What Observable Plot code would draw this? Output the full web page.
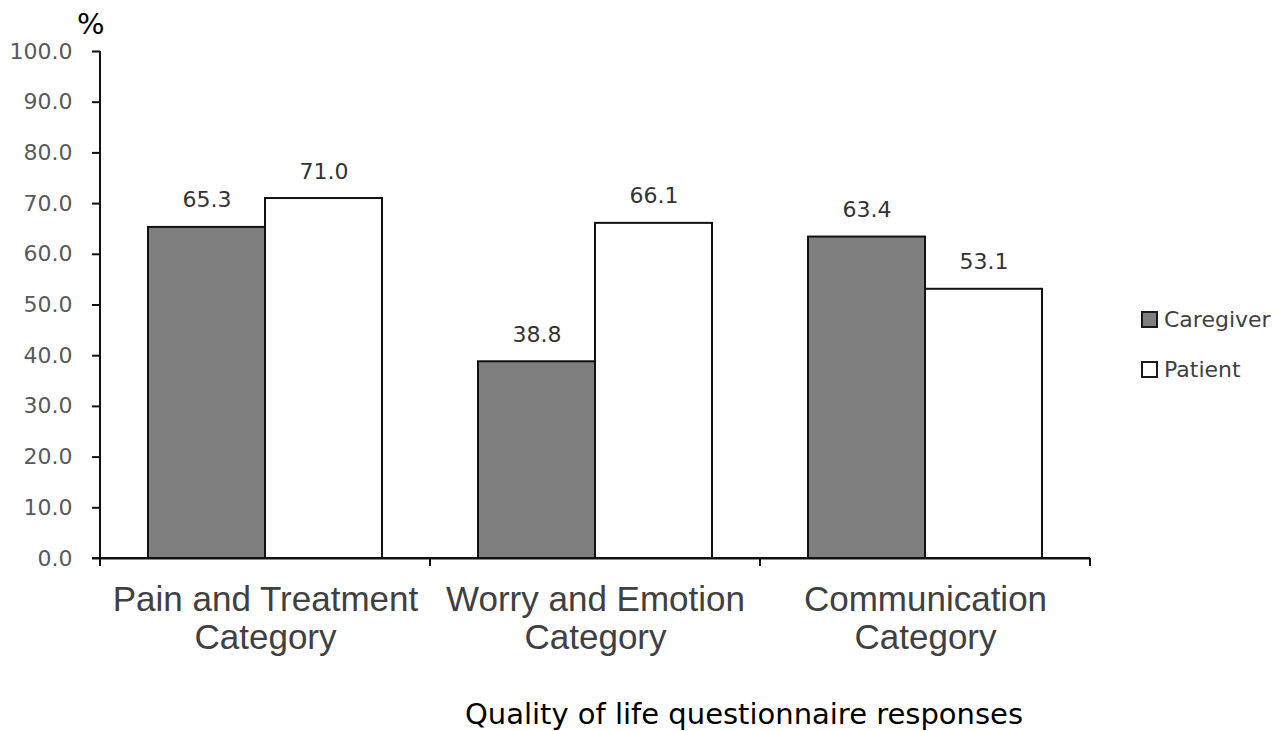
<!DOCTYPE html>
<html>
<head>
<meta charset="utf-8">
<script src="https://cdn.jsdelivr.net/npm/d3@7"></script>
<script src="https://cdn.jsdelivr.net/npm/@observablehq/plot@0.6"></script>
<style>
  html, body { margin: 0; padding: 0; background: #fff; }
  #wrap { position: relative; width: 1282px; height: 731px; overflow: hidden; }
  .pct { position: absolute; left: 77px; top: 7px; font: 29px "DejaVu Sans", sans-serif; color: #000; }
  .xtitle { position: absolute; left: 394px; width: 700px; top: 697px; text-align: center; font: 29px "DejaVu Sans", sans-serif; color: #000; white-space: nowrap; }
  .legend { position: absolute; left: 1141px; top: 306px; font: 22px "DejaVu Sans", sans-serif; color: #404040; }
  .legend .row { display: flex; align-items: center; height: 50px; margin-top: -12px; }
  .legend .row + .row { margin-top: 0; }
  .legend .sw { width: 13px; height: 13px; border: 2px solid #1a1a1a; margin-right: 6px; box-sizing: content-box; }
</style>
</head>
<body>
<div id="wrap"></div>
<script>
const categories = ["Pain and Treatment Category", "Worry and Emotion Category", "Communication Category"];
const groups = ["Caregiver", "Patient"];
const caregiverValues = [65.3, 38.8, 63.4];
const patientValues = [71.0, 66.1, 53.1];
const yTicks = [0, 10, 20, 30, 40, 50, 60, 70, 80, 90, 100];
const groupColors = ["#7f7f7f", "#ffffff"];
const xTitle = "Quality of life questionnaire responses";
const yUnit = "%";

const data = [];
categories.forEach((c, i) => {
  data.push({category: c, group: groups[0], value: caregiverValues[i]});
  data.push({category: c, group: groups[1], value: patientValues[i]});
});

const plot = Plot.plot({
  width: 1282,
  height: 731,
  marginLeft: 100,
  marginRight: 192,
  marginTop: 51,
  marginBottom: 173,
  style: {background: "transparent", overflow: "visible"},
  fx: {domain: categories, padding: 0},
  x: {domain: groups, paddingInner: 0, paddingOuter: 0.41, axis: null},
  y: {domain: [0, 100], axis: null},
  color: {domain: groups, range: groupColors},
  marks: [
    Plot.barY(data, {fx: "category", x: "group", y: "value", fill: "group", stroke: "#111", strokeWidth: 2}),
    Plot.ruleY([0], {stroke: "#111", strokeWidth: 2}),
    Plot.text(data, {fx: "category", x: "group", y: "value", text: d => d.value.toFixed(1), dy: -27,
      fontSize: 22, fontFamily: "DejaVu Sans", fill: "#333"}),
    Plot.axisY({ticks: yTicks, tickFormat: d => d.toFixed(1), tickSize: 8, tickPadding: 20,
      fontSize: 22, fontFamily: "DejaVu Sans", fill: "#595959", stroke: "#111", strokeWidth: 2, label: null}),
    Plot.axisFx({anchor: "bottom", tickSize: 0, tickPadding: 26, fontSize: 35, lineHeight: 1.08,
      fontFamily: "Liberation Sans", fill: "#404040", label: null,
      tickFormat: d => d.replace(" Category", "\nCategory")})
  ]
});

// axis lines and category boundary ticks, positioned from Plot's own scales
const fx = plot.scale("fx");
const y = plot.scale("y");
const bounds = fx.domain.map(c => fx.apply(c));
bounds.push(fx.apply(fx.domain[fx.domain.length - 1]) + fx.bandwidth);
const svg = d3.select(plot);
const y0 = y.apply(0), yTop = y.apply(100);
const g = svg.append("g").attr("stroke", "#111").attr("stroke-width", 2);
g.append("line").attr("x1", bounds[0]).attr("x2", bounds[0]).attr("y1", yTop).attr("y2", y0 + 8);
g.append("line").attr("x1", bounds[0] - 8).attr("x2", bounds[bounds.length - 1]).attr("y1", y0).attr("y2", y0);
g.selectAll("line.b").data(bounds.slice(1)).join("line").attr("class", "b")
  .attr("x1", d => d).attr("x2", d => d).attr("y1", y0).attr("y2", y0 + 8);

const wrap = document.getElementById("wrap");
wrap.appendChild(plot);
plot.style.position = "absolute"; plot.style.left = "0"; plot.style.top = "0";

const pct = document.createElement("div"); pct.className = "pct"; pct.textContent = yUnit; wrap.appendChild(pct);
const xt = document.createElement("div"); xt.className = "xtitle"; xt.textContent = xTitle; wrap.appendChild(xt);
const lg = document.createElement("div"); lg.className = "legend";
groups.forEach((gname, i) => {
  const row = document.createElement("div"); row.className = "row";
  const sw = document.createElement("div"); sw.className = "sw"; sw.style.background = groupColors[i];
  const t = document.createElement("span"); t.textContent = gname;
  row.appendChild(sw); row.appendChild(t); lg.appendChild(row);
});
wrap.appendChild(lg);
</script>
</body>
</html>
